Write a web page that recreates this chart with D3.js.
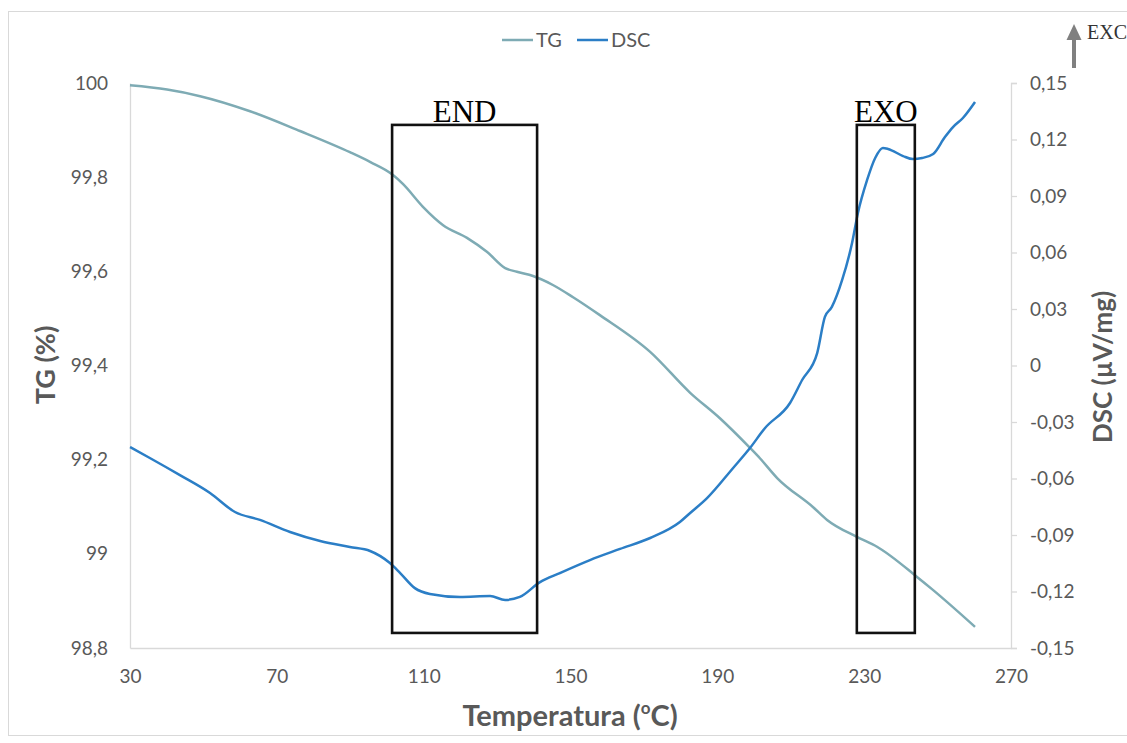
<!DOCTYPE html>
<html><head><meta charset="utf-8">
<script src="https://cdn.jsdelivr.net/npm/d3@7"></script>
<style>body{margin:0;background:#fff}svg{display:block}</style>
</head><body><svg id="c" width="1127" height="743"></svg>
<script>
const tgT   = [30,40.1,49.1,62.7,76.3,89.9,95.5,101.4,104.4,109.8,115.3,121.8,127.3,132.2,135.4,139.8,145.2,150.7,158,171.7,182.6,190.7,198.9,201.6,206.3,216.1,219.9,228,233.5,244.4,248.8,260.2];
const tgV   = [99.995,99.986,99.972,99.94,99.898,99.853,99.832,99.806,99.785,99.737,99.698,99.671,99.641,99.607,99.599,99.59,99.571,99.545,99.507,99.429,99.342,99.288,99.225,99.203,99.161,99.099,99.072,99.036,99.015,98.951,98.923,98.845];
const dscT  = [30,35.4,43.6,51.8,58.6,65.4,73.6,81.8,89.9,95.4,100.8,103.6,107.6,111.7,119.9,128.1,132.2,136.2,141.7,147.1,155.3,163.5,171.7,179.8,182.6,187.2,194.3,198.9,203,209.8,213.1,217.2,219.3,221.2,224,226.7,228.3,230.8,233,235.1,236.5,240.6,243.3,245.8,248.8,252,254.2,256.9,260.2];
const dscV  = [-0.0433,-0.0491,-0.0582,-0.0677,-0.0778,-0.082,-0.0884,-0.0932,-0.0964,-0.0985,-0.1049,-0.1102,-0.1182,-0.1213,-0.1229,-0.1224,-0.1245,-0.1229,-0.115,-0.1102,-0.1033,-0.0974,-0.0916,-0.0831,-0.0783,-0.0704,-0.0544,-0.0438,-0.0332,-0.0199,-0.0077,0.0066,0.0258,0.0311,0.0454,0.065,0.081,0.0985,0.1102,0.1155,0.115,0.1112,0.1096,0.1102,0.1123,0.1213,0.1266,0.1314,0.1399];
const xTicks = [30,70,110,150,190,230,270];
const tgTicks = [98.8,99,99.2,99.4,99.6,99.8,100];
const dscTicks = [-0.15,-0.12,-0.09,-0.06,-0.03,0,0.03,0.06,0.09,0.12,0.15];
const boxes = [{label:"END",t0:101.4,t1:140.9},{label:"EXO",t0:228.0,t1:243.8}];

const svg = d3.select("#c");
const M = {l:130, r:1011, t:83, b:648};
const x = d3.scaleLinear().domain([30,270]).range([M.l,M.r]);
const yL = d3.scaleLinear().domain([98.8,100]).range([M.b,M.t]);
const yR = d3.scaleLinear().domain([-0.15,0.15]).range([M.b,M.t]);
const fmt = v => { let s = (Math.round(v*1000)/1000).toString(); return s.replace(".",","); };
const txt = "#595959", grid="#d9d9d9", font="Lato, 'Open Sans', sans-serif";

svg.append("rect").attr("x",8.5).attr("y",11.5).attr("width",1130).attr("height",724)
  .attr("fill","none").attr("stroke","#d9d9d9");

// axes
const gx = svg.append("g").attr("transform",`translate(0,${M.b})`).call(d3.axisBottom(x).tickValues(xTicks).tickSize(0).tickPadding(22).tickFormat(d=>d));
const gl = svg.append("g").attr("transform",`translate(${M.l},0)`).call(d3.axisLeft(yL).tickValues(tgTicks).tickSize(0).tickPadding(22).tickFormat(fmt));
const gr = svg.append("g").attr("transform",`translate(${M.r},0)`).call(d3.axisRight(yR).tickValues(dscTicks).tickSize(6).tickPadding(13).tickFormat(fmt));
[gx,gl,gr].forEach(g=>{
  g.select(".domain").attr("stroke",grid).attr("stroke-width",1.3);
  g.selectAll(".tick line").attr("stroke",grid).attr("stroke-width",1.3);
  g.selectAll("text").attr("fill",txt).attr("font-family",font).attr("font-size",19);
});

// lines
const lineTG = d3.line().x((d,i)=>x(tgT[i])).y(d=>yL(d)).curve(d3.curveMonotoneX);
const lineDSC = d3.line().x((d,i)=>x(dscT[i])).y(d=>yR(d)).curve(d3.curveMonotoneX);
svg.append("path").attr("d",lineTG(tgV)).attr("fill","none").attr("stroke","#7eabb4").attr("stroke-width",2.5);
svg.append("path").attr("d",lineDSC(dscV)).attr("fill","none").attr("stroke","#2b7ec6").attr("stroke-width",2.5);

// annotation boxes
boxes.forEach(b=>{
  svg.append("rect").attr("x",x(b.t0)).attr("y",yL(99.911)).attr("width",x(b.t1)-x(b.t0)).attr("height",yL(98.832)-yL(99.911))
    .attr("fill","none").attr("stroke","#111").attr("stroke-width",2.6);
  svg.append("text").attr("x",(x(b.t0)+x(b.t1))/2).attr("y",yL(99.911)-3).attr("text-anchor","middle")
    .attr("font-family","'Liberation Serif','Times New Roman',serif").attr("font-size",31).attr("fill","#000").text(b.label);
});

// axis titles
svg.append("text").attr("transform",`translate(55,365) rotate(-90)`).attr("text-anchor","middle")
  .attr("font-family",font).attr("font-weight","bold").attr("font-size",27).attr("fill",txt).text("TG (%)");
svg.append("text").attr("transform",`translate(1112,367) rotate(-90)`).attr("text-anchor","middle")
  .attr("font-family",font).attr("font-weight","bold").attr("font-size",26).attr("fill",txt).text("DSC (µV/mg)");
const xt = svg.append("text").attr("x",570).attr("y",726).attr("text-anchor","middle")
  .attr("font-family",font).attr("font-weight","bold").attr("font-size",29).attr("fill",txt);
xt.append("tspan").text("Temperatura (");
xt.append("tspan").attr("font-size",17).attr("dy",-12).text("o");
xt.append("tspan").attr("dy",12).text("C)");

// legend
const lg = [{n:"TG",c:"#7eabb4",x:502},{n:"DSC",c:"#2b7ec6",x:577}];
lg.forEach(l=>{
  svg.append("line").attr("x1",l.x).attr("x2",l.x+31).attr("y1",40).attr("y2",40).attr("stroke",l.c).attr("stroke-width",2.5);
  svg.append("text").attr("x",l.x+34).attr("y",47).attr("font-family",font).attr("font-size",20).attr("fill",txt).text(l.n);
});

// EXC arrow
svg.append("line").attr("x1",1074).attr("x2",1074).attr("y1",68).attr("y2",38).attr("stroke","#808080").attr("stroke-width",4);
svg.append("path").attr("d","M1066.5,40 L1074,24 L1081.5,40 Z").attr("fill","#808080");
svg.append("text").attr("x",1087).attr("y",39).attr("font-family","'Liberation Serif','Times New Roman',serif").attr("font-size",20).attr("fill","#333").text("EXC");
</script></body></html>
